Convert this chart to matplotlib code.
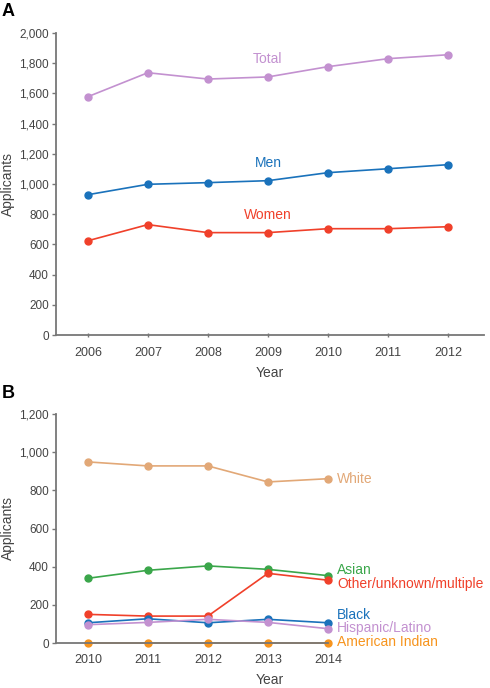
import matplotlib
matplotlib.use("Agg")
from matplotlib import pyplot as plt

plt.rcParams['font.family'] = ['Liberation Sans', 'DejaVu Sans']

# Panel A data
years_a = [2006, 2007, 2008, 2009, 2010, 2011, 2012]
total = [1578, 1737, 1695, 1709, 1777, 1830, 1856]
men = [929, 998, 1009, 1022, 1075, 1101, 1128]
women = [624, 731, 678, 678, 704, 704, 717]

# Panel B data
years_b = [2010, 2011, 2012, 2013, 2014]
white = [949, 928, 928, 844, 861]
asian = [339, 381, 404, 386, 353]
other = [150, 141, 141, 365, 329]
black = [106, 127, 106, 124, 106]
hispanic = [96, 108, 124, 108, 75]
american_indian = [0, 0, 0, 0, 0]

c_purple = '#c391d0'
c_blue = '#1a72bb'
c_red = '#f0402a'
c_tan = '#e2a877'
c_green = '#3aa64a'
c_orange = '#f7941d'
c_axis = '#777777'
c_text = '#444444'

fig = plt.figure(figsize=(4.9, 6.88), dpi=100)
ax1 = fig.add_axes([56 / 490, 1 - 335 / 688, 428 / 490, 302 / 688])
ax2 = fig.add_axes([56 / 490, 1 - 643 / 688, 428 / 490, 229 / 688])


def style(ax):
    for s in ['top', 'right']:
        ax.spines[s].set_visible(False)
    for s in ['left', 'bottom']:
        ax.spines[s].set_color(c_axis)
        ax.spines[s].set_linewidth(1.3)
    ax.tick_params(axis='y', colors=c_axis, labelcolor=c_text, labelsize=8.5,
                   length=3, width=1, pad=2)
    ax.tick_params(axis='x', colors=c_axis, labelcolor=c_text, labelsize=9,
                   length=3, width=1, direction='inout', pad=7)
    ax.set_ylabel('Applicants', fontsize=10, color=c_text)
    ax.yaxis.set_label_coords(-0.095, 0.5)
    ax.set_xlabel('Year', fontsize=10, color=c_text, labelpad=5)


kw = dict(marker='o', markersize=5, linewidth=1.2, clip_on=False)

# Panel A
ax1.plot(years_a, total, color=c_purple, **kw)
ax1.plot(years_a, men, color=c_blue, **kw)
ax1.plot(years_a, women, color=c_red, **kw)
ax1.set_xlim(2005.47, 2012.6)
ax1.set_ylim(0, 2000)
ax1.set_yticks(range(0, 2001, 200))
ax1.set_yticklabels(['{:,}'.format(v) for v in range(0, 2001, 200)])
ax1.set_xticks(years_a)
style(ax1)
ax1.text(2009, 1828, 'Total', color=c_purple, fontsize=10, ha='center', va='center')
ax1.text(2009, 1139, 'Men', color=c_blue, fontsize=10, ha='center', va='center')
ax1.text(2009, 795, 'Women', color=c_red, fontsize=10, ha='center', va='center')

# Panel B
series_b = [
    (white, c_tan, 'White', 861),
    (asian, c_green, 'Asian', 382),
    (other, c_red, 'Other/unknown/multiple', 309),
    (black, c_blue, 'Black', 149),
    (hispanic, c_purple, 'Hispanic/Latino', 78),
    (american_indian, c_orange, 'American Indian', 5),
]
for vals, col, name, ly in series_b:
    ax2.plot(years_b, vals, color=col, **kw)
    ax2.text(2014.15, ly, name, color=col, fontsize=10, ha='left', va='center')
ax2.set_xlim(2009.47, 2016.6)
ax2.set_ylim(0, 1200)
ax2.set_yticks(range(0, 1201, 200))
ax2.set_yticklabels(['{:,}'.format(v) for v in range(0, 1201, 200)])
ax2.set_xticks(years_b)
style(ax2)
ax2.tick_params(axis='x', length=0, pad=8)
ax2.spines['bottom'].set_bounds(2009.47, 2014)

fig.text(0.004, 1 - 12 / 688, 'A', fontsize=13, fontweight='bold', va='center')
fig.text(0.004, 1 - 393 / 688, 'B', fontsize=13, fontweight='bold', va='center')

fig.savefig('out.png', dpi=100)
